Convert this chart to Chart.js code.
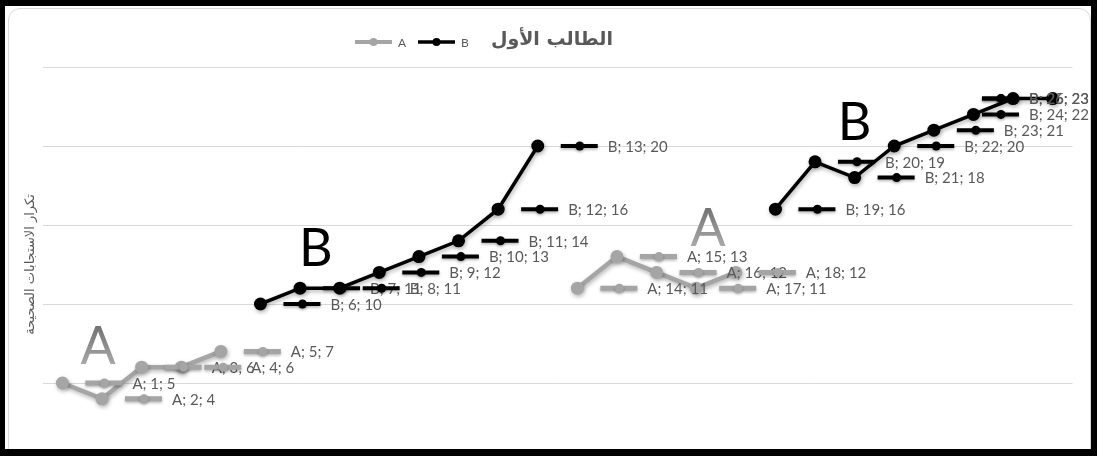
<!DOCTYPE html>
<html><head><meta charset="utf-8">
<script src="https://cdn.jsdelivr.net/npm/chart.js@4.4.1/dist/chart.umd.min.js"></script>
<style>
html,body{margin:0;padding:0;background:#fff;overflow:hidden;width:1097px;height:456px;}
#wrap{position:absolute;left:0;top:0;width:1097px;height:456px;overflow:hidden;background:#fff;}
#inner{position:absolute;left:8px;top:8px;width:1081px;height:600px;border:1px solid #d9d9d9;border-radius:12px;pointer-events:none;}
#cv{position:absolute;left:0;top:0;}
#frame{position:absolute;left:0;top:0;width:1097px;height:456px;box-sizing:border-box;border-style:solid;border-color:#000;border-width:6px 6px 7px 5px;pointer-events:none;}
</style></head>
<body>
<div id="wrap"><div id="inner"></div><canvas id="cv" width="1097" height="530"></canvas><div id="frame"></div></div>
<script>
const categories = ['1','2','3','4','5','6','7','8','9','10','11','12','13','14','15','16','17','18','19','20','21','22','23','24','25','26'];
const seriesA = [5,4,6,6,7,null,null,null,null,null,null,null,null,11,13,12,11,12,null,null,null,null,null,null,null,null];
const seriesB = [null,null,null,null,null,10,11,11,12,13,14,16,20,null,null,null,null,null,16,19,18,20,21,22,23,23];
const yTickValues = [0,5,10,15,20,25];
const chartTitle = 'الطالب الأول';
const yAxisTitle = 'تكرار الاستجابات الصحيحة';
const phaseNames = ['A','B','A','B'];
const phaseAt = [0.9, 6.4, 16.3, 20.0];
const phaseLevel = [6.2, 12.4, 13.7, 20.4];

const colA = '#a5a5a5', colB = '#000000', txt = '#595959';

const shadowPlugin = {
  id:'shadow',
  beforeDatasetDraw(chart){ const c=chart.ctx; c.save(); c.shadowColor='rgba(0,0,0,0.3)'; c.shadowBlur=4; c.shadowOffsetX=1; c.shadowOffsetY=2; },
  afterDatasetDraw(chart){ chart.ctx.restore(); }
};

const labelPlugin = {
  id:'pointLabels',
  afterDatasetsDraw(chart){
    const c = chart.ctx, R = chart.width - 8;
    c.save();
    c.font = '15px Lato';
    c.textBaseline = 'middle';
    c.textAlign = 'left';
    chart.data.datasets.forEach((ds, di) => {
      const meta = chart.getDatasetMeta(di);
      meta.data.forEach((pt, i) => {
        const v = ds.data[i];
        if (v === null || v === undefined) return;
        const text = ds.label + '; ' + categories[i] + '; ' + v;
        const w = c.measureText(text).width;
        let x0 = pt.x;
        const right = x0 + 70 + w;
        if (right > R) x0 -= (right - R);
        const y = pt.y;
        c.save();
        c.shadowColor='rgba(0,0,0,0.3)'; c.shadowBlur=3; c.shadowOffsetY=1.5;
        c.strokeStyle = ds.borderColor; c.lineWidth = di===0?5:4; c.lineCap='butt';
        c.beginPath(); c.moveTo(x0+23, y); c.lineTo(x0+60, y); c.stroke();
        c.fillStyle = ds.borderColor;
        c.beginPath(); c.arc(x0+42, y, 4.5, 0, Math.PI*2); c.fill();
        c.restore();
        c.fillStyle = txt;
        c.fillText(text, x0+70, y+1);
      });
    });
    c.restore();
  }
};

const decorPlugin = {
  id:'decor',
  afterDraw(chart){
    const c = chart.ctx, xs = chart.scales.x, ys = chart.scales.y;
    c.save();
    c.font = '52px Lato';
    c.textAlign = 'center'; c.textBaseline = 'alphabetic';
    phaseNames.forEach((n, k) => {
      const px = xs.getPixelForValue(phaseAt[k]);
      const py = ys.getPixelForValue(phaseLevel[k]);
      if (n === 'A') {
        const g = c.createLinearGradient(0, py-40, 0, py);
        g.addColorStop(0,'#6f6f6f'); g.addColorStop(1,'#a8a8a8');
        c.fillStyle = g;
      } else c.fillStyle = '#000';
      c.fillText(n, px, py);
    });
    c.fillStyle = txt;
    c.font = 'bold 19px "DejaVu Sans"';
    c.textAlign = 'right'; c.textBaseline = 'middle';
    c.direction = 'rtl';
    c.fillText(chartTitle, 613, 40);
    c.direction = 'ltr';
    c.textAlign = 'left';
    c.font = '12px Lato';
    const items = [[355, chart.data.datasets[0]], [418, chart.data.datasets[1]]];
    items.forEach(([lx, ds]) => {
      c.strokeStyle = ds.borderColor; c.lineWidth = ds === chart.data.datasets[0] ? 4 : 3.5;
      c.beginPath(); c.moveTo(lx, 42); c.lineTo(lx+37, 42); c.stroke();
      c.fillStyle = ds.borderColor;
      c.beginPath(); c.arc(lx+18.5, 42, 4, 0, Math.PI*2); c.fill();
      c.fillStyle = txt;
      c.fillText(ds.label, lx+43, 43);
    });
    c.restore();
  }
};

new Chart(document.getElementById('cv'), {
  type:'line',
  data:{
    labels: categories,
    datasets:[
      {label:'A', data: seriesA, borderColor: colA, backgroundColor: colA, borderWidth:4.5, pointRadius:6.5, pointBorderWidth:0, pointBackgroundColor: colA, pointBorderColor: colA, tension:0, spanGaps:false},
      {label:'B', data: seriesB, borderColor: colB, backgroundColor: colB, borderWidth:3.5, pointRadius:6.5, pointBorderWidth:0, pointBackgroundColor: colB, pointBorderColor: colB, tension:0, spanGaps:false}
    ]
  },
  options:{
    responsive:false, animation:false,
    layout:{padding:{left:19, right:24.5, top:67, bottom:68}},
    plugins:{legend:{display:false}, title:{display:false}, tooltip:{enabled:false}},
    scales:{
      x:{type:'category', offset:true, display:false},
      y:{min:0, max:25,
         afterBuildTicks(s){ s.ticks = yTickValues.map(v=>({value:v})); },
         ticks:{display:false},
         grid:{color:'#d9d9d9', lineWidth:1, drawTicks:false},
         border:{display:false},
         title:{display:true, text:yAxisTitle, color:txt, font:{family:'"DejaVu Sans"', size:13}, padding:{top:4,bottom:4}}
      }
    }
  },
  plugins:[shadowPlugin, labelPlugin, decorPlugin]
});
</script>
</body></html>
